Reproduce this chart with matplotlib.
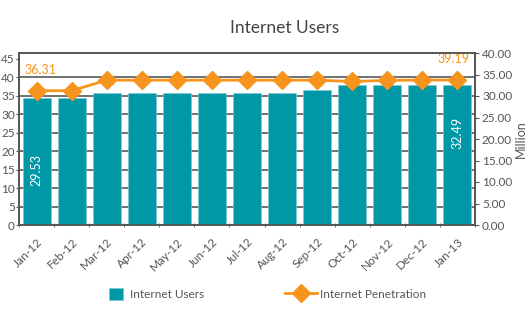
import matplotlib.pyplot as plt
from matplotlib.patches import Patch
from matplotlib.lines import Line2D
import numpy as np

plt.rcParams['font.family'] = ['Lato', 'DejaVu Sans']

months = ["Jan-12", "Feb-12", "Mar-12", "Apr-12", "May-12", "Jun-12", "Jul-12",
          "Aug-12", "Sep-12", "Oct-12", "Nov-12", "Dec-12", "Jan-13"]
# internet users, million (right axis)
users = [29.53, 29.60, 30.65, 30.65, 30.65, 30.65, 30.65,
         30.65, 31.40, 32.45, 32.45, 32.47, 32.49]
# internet penetration, % (left axis)
penetration = [36.31, 36.31, 39.15, 39.15, 39.15, 39.15, 39.15,
               39.15, 39.15, 38.80, 39.10, 39.19, 39.19]

teal = "#0097a7"
orange = "#f7941d"
grey = "#555555"

fig = plt.figure(figsize=(5.28, 3.27), dpi=100)
ax1 = fig.add_axes([19 / 528, 1 - 225 / 327, (475 - 19) / 528, (225 - 53) / 327])
ax2 = ax1.twinx()

x = np.arange(len(months))

# grid on the left (penetration) scale, behind the bars
ax1.set_ylim(0, 46.5)
ax1.set_yticks(np.arange(0, 46, 5))
ax1.set_xlim(-0.5, len(months) - 0.5)
ax1.grid(axis="y", color="#666666", linewidth=1.3)
ax1.yaxis.get_gridlines()[-1].set_visible(False)
ax1.set_axisbelow(True)

bars = ax2.bar(x, users, width=0.8, color=teal, edgecolor="#7fc9d0", linewidth=0.5)
ax2.set_ylim(0, 40)
ax2.set_yticks(np.arange(0, 41, 5))
ax2.set_yticklabels(["%.2f" % v for v in np.arange(0, 41, 5)])
ax2.set_ylabel("Million", color=grey, fontsize=9, labelpad=2)

# penetration line drawn above the bars, but in left-axis units
ax2.plot(x, penetration, color=orange, linewidth=2, marker="D", markersize=9,
         transform=ax1.transData, zorder=5, clip_on=False)

ax1.set_xticks(x)
ax1.set_xticklabels(months, rotation=45, ha="right", rotation_mode="anchor")
ax1.set_xticks(np.arange(-0.5, len(months), 1), minor=True)
ax1.tick_params(axis="x", which="major", length=0, labelsize=8.5, labelcolor=grey, pad=8)
ax1.tick_params(axis="x", which="minor", length=3, color=grey, direction="inout")
ax1.tick_params(axis="y", labelsize=8.5, labelcolor=grey, length=2, color=grey, pad=1)
ax2.tick_params(axis="y", labelsize=8.5, labelcolor=grey, length=3, color=grey, pad=2)

for ax in (ax1, ax2):
    for s in ("left", "right", "bottom", "top"):
        ax.spines[s].set_color(grey)
        ax.spines[s].set_linewidth(1.2)

# value labels
ax2.text(x[0], users[0] * 0.43, "%.2f" % users[0], rotation=90, color="white",
         ha="center", va="center", fontsize=9)
ax2.text(x[-1], users[-1] * 0.66, "%.2f" % users[-1], rotation=90, color="white",
         ha="center", va="center", fontsize=9)
ax1.text(x[0] - 0.35, 41.9, "%.2f" % penetration[0], color=orange,
         ha="left", va="center", fontsize=9)
ax1.text(x[-1] + 0.35, 44.9, "%.2f" % penetration[-1], color=orange,
         ha="right", va="center", fontsize=9)

fig.text(285 / 528, 1 - 28 / 327, "Internet Users", ha="center", va="center",
         fontsize=12.5, color="#444444")

leg1 = fig.legend([Patch(facecolor=teal, edgecolor="#7fc9d0", linewidth=0.5)],
                  ["Internet Users"], loc="center left",
                  bbox_to_anchor=(98 / 528, 1 - 294 / 327), frameon=False,
                  fontsize=8.5, labelcolor=grey, handlelength=1.2,
                  handleheight=1.2, handletextpad=0.6)
leg2 = fig.legend([Line2D([], [], color=orange, linewidth=2, marker="D", markersize=9)],
                  ["Internet Penetration"], loc="center left",
                  bbox_to_anchor=(274 / 528, 1 - 294 / 327), frameon=False,
                  fontsize=8.5, labelcolor=grey, handlelength=2.7,
                  handletextpad=0.3)

fig.savefig("out.png", dpi=100)
